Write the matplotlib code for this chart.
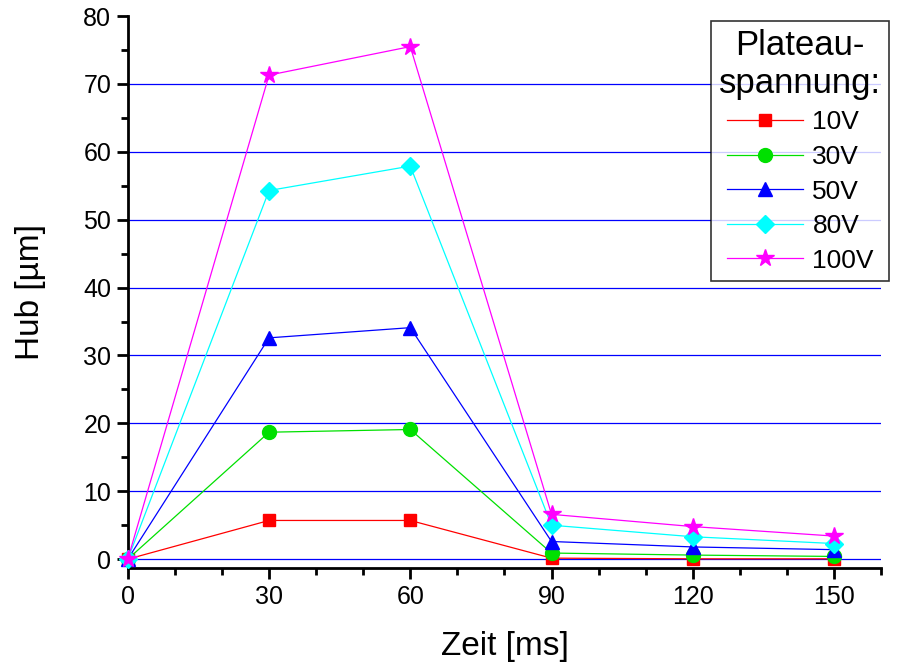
import matplotlib
matplotlib.use('Agg')
from matplotlib import pyplot as plt
from matplotlib.ticker import MultipleLocator

plt.rcParams['font.family'] = ['Liberation Sans', 'DejaVu Sans']

# 数据
zeit = [0, 30, 60, 90, 120, 150]
hub_10 = [0, 5.7, 5.7, 0.15, 0.05, 0.05]
hub_30 = [0, 18.7, 19.1, 0.9, 0.6, 0.4]
hub_50 = [0, 32.6, 34.1, 2.6, 1.8, 1.4]
hub_80 = [0, 54.3, 57.9, 5.0, 3.3, 2.3]
hub_100 = [0, 71.3, 75.5, 6.6, 4.8, 3.4]

serien = [
    ('10V', hub_10, '#ff0000', 's', 9),
    ('30V', hub_30, '#00e000', 'o', 10),
    ('50V', hub_50, '#0000ff', '^', 10),
    ('80V', hub_80, '#00ffff', 'D', 9),
    ('100V', hub_100, '#ff00ff', '*', 13),
]

fig = plt.figure(figsize=(9, 6.69), dpi=100)
ax = fig.add_axes([0.142, 0.151, 0.837, 0.825])

# 水平网格线
for y in range(0, 80, 10):
    ax.axhline(y, color='#0000ff', lw=0.9, zorder=1)

for name, werte, farbe, marker, ms in serien:
    ax.plot(zeit, werte, color=farbe, lw=0.9, marker=marker, markersize=ms,
            markeredgecolor=farbe, label=name, zorder=3, clip_on=False)

ax.set_xlim(0, 160)
ax.set_ylim(-1.3, 80)
ax.xaxis.set_major_locator(MultipleLocator(30))
ax.xaxis.set_minor_locator(MultipleLocator(10))
ax.yaxis.set_major_locator(MultipleLocator(10))
ax.yaxis.set_minor_locator(MultipleLocator(5))
ax.set_yticks(range(0, 81, 10))

ax.spines['top'].set_visible(False)
ax.spines['right'].set_visible(False)
ax.spines['left'].set_linewidth(2)
ax.spines['bottom'].set_linewidth(2)
ax.tick_params(which='major', direction='out', length=8, width=2,
               labelsize=18, pad=4)
ax.tick_params(which='minor', direction='out', length=5, width=2)

ax.set_xlabel('Zeit [ms]', fontsize=24, labelpad=16)
ax.set_ylabel('Hub [µm]', fontsize=24, labelpad=27)

leg = ax.legend(title='Plateau-\nspannung:', loc='upper right',
                bbox_to_anchor=(0.988, 0.969), bbox_transform=fig.transFigure,
                fontsize=19, title_fontsize=25, frameon=True, fancybox=False,
                edgecolor='black', handlelength=2.9, labelspacing=0.4,
                borderpad=0.3, handletextpad=0.35, borderaxespad=0)
leg.get_frame().set_linewidth(1.2)
leg.get_title().set_multialignment('center')

fig.savefig('out.png', dpi=100)
